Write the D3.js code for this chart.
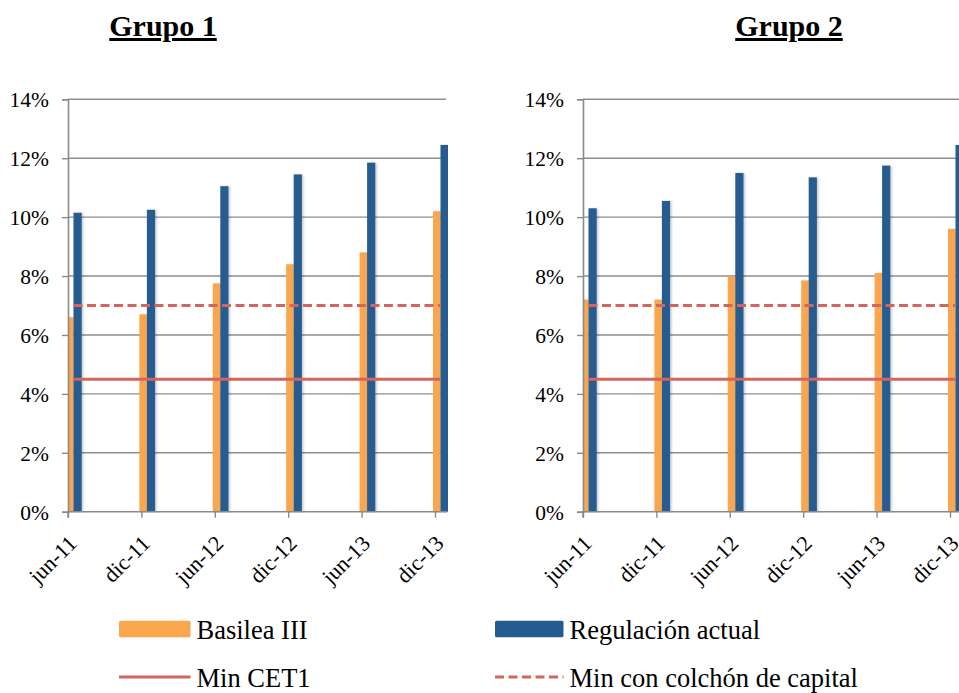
<!DOCTYPE html>
<html>
<head>
<meta charset="utf-8">
<script src="https://cdn.jsdelivr.net/npm/d3@7/dist/d3.min.js"></script>
<style>
  html, body { margin: 0; padding: 0; background: #fff; }
  svg { display: block; }
  svg text { font-family: "Liberation Serif", "Times New Roman", "DejaVu Serif", serif !important; fill: #000; }
</style>
</head>
<body>
<svg id="chart" width="959" height="693"></svg>
<script>
// Periods on the x axis
const categories = ["jun-11", "dic-11", "jun-12", "dic-12", "jun-13", "dic-13"];
// Y axis tick values (percent)
const yTicks = [0, 2, 4, 6, 8, 10, 12, 14];

// Grupo 1 series (percent)
const g1Basilea = [6.6, 6.7, 7.75, 8.4, 8.8, 10.2];
const g1Regulacion = [10.15, 10.25, 11.05, 11.45, 11.85, 12.45];
// Grupo 2 series (percent)
const g2Basilea = [7.2, 7.2, 8.0, 7.85, 8.1, 9.6];
const g2Regulacion = [10.3, 10.55, 11.5, 11.35, 11.75, 12.45];

// Regulatory minimums (percent)
const minCET1 = [4.5, 4.5, 4.5, 4.5, 4.5, 4.5];
const minColchon = [7.0, 7.0, 7.0, 7.0, 7.0, 7.0];

const titles = ["Grupo 1", "Grupo 2"];
const legendLabels = ["Basilea III", "Regulación actual", "Min CET1", "Min con colchón de capital"];

const COLORS = {
  basilea: "#F9A64F",
  regulacion: "#255C8F",
  line: "#D2655E",
  grid: "#8E8E8E",
  axis: "#8A8A8A"
};

const svg = d3.select("#chart");

// soft shadow beside each bar
const defs = svg.append("defs");
const shadow = defs.append("filter").attr("id", "barShadow")
  .attr("x", "-50%").attr("y", "-5%").attr("width", "200%").attr("height", "110%");
shadow.append("feDropShadow").attr("dx", 1.5).attr("dy", 0.5)
  .attr("stdDeviation", 1).attr("flood-color", "#000").attr("flood-opacity", 0.22);

const y = d3.scaleLinear().domain([0, 14]).range([511.7, 99.3]);

const panels = [
  { title: titles[0], x0: 68, x1: 435, right: 447, basilea: g1Basilea, regulacion: g1Regulacion, titleX: 163 },
  { title: titles[1], x0: 583, x1: 950, right: 962, basilea: g2Basilea, regulacion: g2Regulacion, titleX: 789 }
];

const barOffset = 5.5;   // group centre relative to the tick
const wOrange = 7.5, wBlue = 8.2;

panels.forEach((p, pi) => {
  const x = d3.scalePoint().domain(categories).range([p.x0, p.x1]);
  const g = svg.append("g");

  // title
  g.append("text")
    .attr("x", p.titleX).attr("y", 36)
    .attr("text-anchor", "middle")
    .attr("font-size", 30).attr("font-weight", "bold")
    .attr("text-decoration", "underline")
    .text(p.title);

  // horizontal gridlines
  g.append("g").selectAll("line").data(yTicks.filter(d => d > 0)).join("line")
    .attr("x1", p.x0).attr("x2", p.right - 1)
    .attr("y1", d => y(d)).attr("y2", d => y(d))
    .attr("stroke", COLORS.grid).attr("stroke-width", 1.4);

  // clip bars to the plot area
  const clipId = "clip" + pi;
  defs.append("clipPath").attr("id", clipId).append("rect")
    .attr("x", p.x0).attr("y", 0).attr("width", p.right - p.x0 + 1).attr("height", y(0) + 1);

  const bars = g.append("g").attr("clip-path", `url(#${clipId})`);
  bars.selectAll("rect.b").data(p.basilea).join("rect").attr("class", "b")
    .attr("x", (d, i) => x(categories[i]) + barOffset - wOrange)
    .attr("y", d => y(d))
    .attr("width", wOrange)
    .attr("height", d => y(0) - y(d))
    .attr("fill", COLORS.basilea)
    .attr("filter", "url(#barShadow)");
  bars.selectAll("rect.r").data(p.regulacion).join("rect").attr("class", "r")
    .attr("x", (d, i) => x(categories[i]) + barOffset)
    .attr("y", d => y(d))
    .attr("width", wBlue)
    .attr("height", d => y(0) - y(d))
    .attr("fill", COLORS.regulacion)
    .attr("filter", "url(#barShadow)");

  // minimum lines
  const line = d3.line().x((d, i) => x(categories[i]) + barOffset).y(d => y(d));
  g.append("path").datum(minCET1).attr("d", line)
    .attr("fill", "none").attr("stroke", COLORS.line).attr("stroke-width", 3);
  g.append("path").datum(minColchon).attr("d", line)
    .attr("fill", "none").attr("stroke", COLORS.line).attr("stroke-width", 3)
    .attr("stroke-dasharray", "9,4.5");

  // y axis
  const yAxis = d3.axisLeft(y).tickValues(yTicks).tickSize(6).tickPadding(6)
    .tickFormat(d => d + "%");
  const ya = g.append("g").attr("transform", `translate(${p.x0},0)`).call(yAxis);
  ya.attr("font-family", null);
  ya.select(".domain").attr("stroke", COLORS.axis).attr("stroke-width", 1.6);
  ya.selectAll(".tick line").attr("stroke", COLORS.axis).attr("stroke-width", 1.4);
  ya.selectAll(".tick text").attr("font-size", 21.5).attr("fill", "#000")
    .attr("dy", "0.35em").attr("x", -19);

  // x axis
  const xa = g.append("g").attr("transform", `translate(0,${y(0)})`)
    .call(d3.axisBottom(x).tickSize(6).tickFormat(() => ""));
  xa.select(".domain").attr("stroke", COLORS.axis).attr("stroke-width", 1.6)
    .attr("d", `M${p.x0},6V0H${p.right}`);
  xa.selectAll(".tick line").attr("stroke", COLORS.axis).attr("stroke-width", 1.4);

  // rotated period labels
  g.append("g").selectAll("text").data(categories).join("text")
    .attr("transform", d => `translate(${x(d) + 10},${y(0) + 33}) rotate(-45)`)
    .attr("text-anchor", "end")
    .attr("font-size", 22)
    .text(d => d);
});

// legend
const legend = svg.append("g");
const legendItems = [
  { label: legendLabels[0], x: 119, yc: 629, type: "rect", color: COLORS.basilea },
  { label: legendLabels[1], x: 495, yc: 629, type: "rect", color: COLORS.regulacion },
  { label: legendLabels[2], x: 119, yc: 677, type: "solid", color: COLORS.line },
  { label: legendLabels[3], x: 495, yc: 677, type: "dash", color: COLORS.line }
];
legendItems.forEach(it => {
  const sw = it.x === 119 ? 71.5 : 68.5;
  if (it.type === "rect") {
    legend.append("rect").attr("x", it.x).attr("y", it.yc - 8.3)
      .attr("width", sw).attr("height", 16.6).attr("rx", 1.5).attr("fill", it.color);
  } else {
    legend.append("line").attr("x1", it.x).attr("x2", it.x + sw)
      .attr("y1", it.yc).attr("y2", it.yc)
      .attr("stroke", it.color).attr("stroke-width", 3)
      .attr("stroke-dasharray", it.type === "dash" ? "9,4.5" : null);
  }
  legend.append("text").attr("x", it.x + sw + 6).attr("y", it.yc + 10)
    .attr("font-size", 26.5).text(it.label);
});
</script>
</body>
</html>
